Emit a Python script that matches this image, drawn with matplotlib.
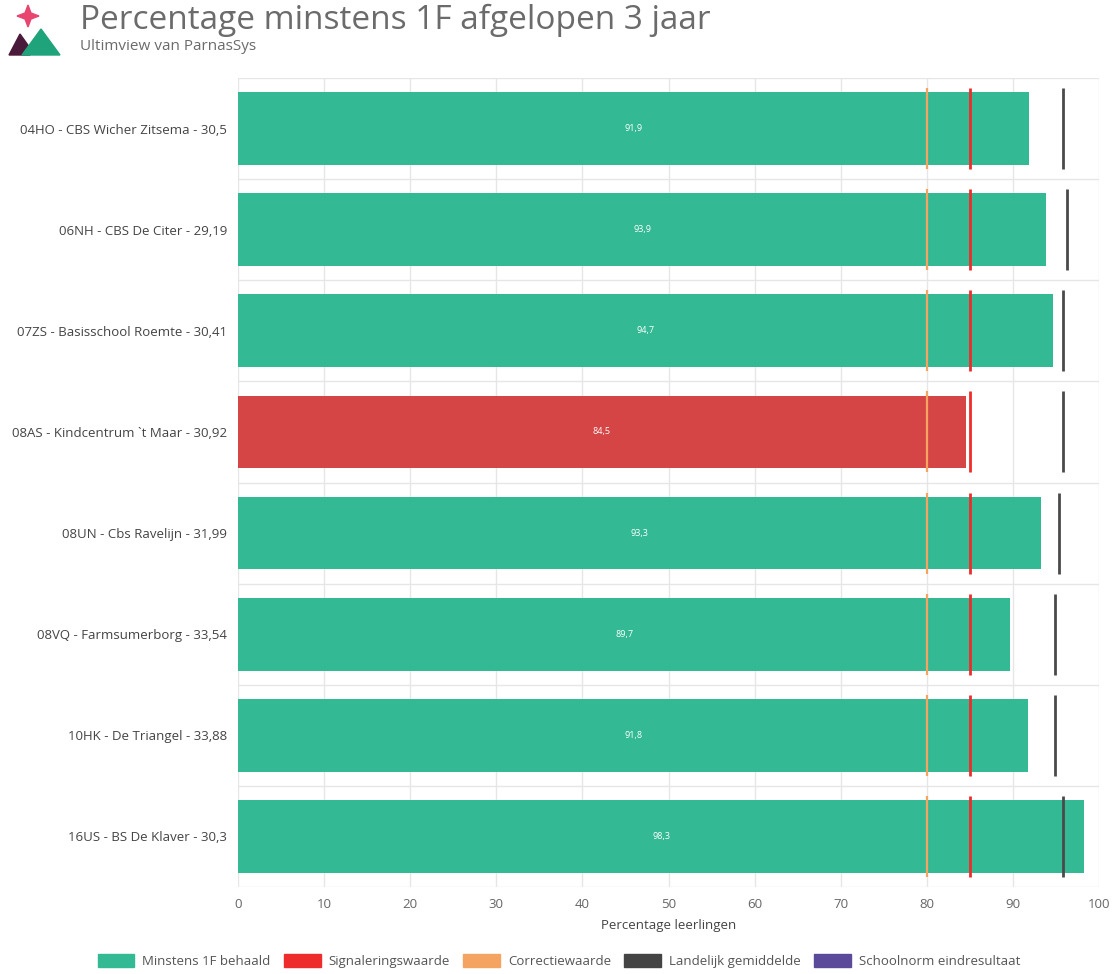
import matplotlib
matplotlib.use("Agg")
import matplotlib.pyplot as plt
from matplotlib.patches import Polygon, Rectangle

categories = ["04HO - CBS Wicher Zitsema - 30,5", "06NH - CBS De Citer - 29,19",
              "07ZS - Basisschool Roemte - 30,41", "08AS - Kindcentrum `t Maar - 30,92",
              "08UN - Cbs Ravelijn - 31,99", "08VQ - Farmsumerborg - 33,54",
              "10HK - De Triangel - 33,88", "16US - BS De Klaver - 30,3"]
values = [91.9, 93.9, 94.7, 84.5, 93.3, 89.7, 91.8, 98.3]
signalering = [85, 85, 85, 85, 85, 85, 85, 85]
correctie = [80, 80, 80, 80, 80, 80, 80, 80]
landelijk = [95.8, 96.3, 95.8, 95.8, 95.4, 94.9, 94.9, 95.8]
xticks = [0, 10, 20, 30, 40, 50, 60, 70, 80, 90, 100]
legend_labels = ["Minstens 1F behaald", "Signaleringswaarde", "Correctiewaarde",
                 "Landelijk gemiddelde", "Schoolnorm eindresultaat"]

GREEN = "#33b994"
RED_BAR = "#d64545"
RED = "#ee2c2c"
ORANGE = "#f4a460"
DARK = "#444444"
PURPLE = "#5b4a9a"

plt.rcParams['font.family'] = ['Open Sans', 'DejaVu Sans']

fig = plt.figure(figsize=(11.18, 9.74), dpi=100)
ax = fig.add_axes([238/1118, 1-887/974, (1099-238)/1118, (887-78)/974])

n = len(categories)
ys = list(range(n))
colors = [GREEN if v >= s else RED_BAR for v, s in zip(values, signalering)]
ax.barh(ys, values, height=0.72, color=colors, zorder=2)
for y, v in zip(ys, values):
    ax.text(v/2, y, f"{v:.1f}".replace(".", ","), ha="center", va="center",
            color="white", fontsize=6.5, zorder=5)
half = 0.4
for y, c, s, l in zip(ys, correctie, signalering, landelijk):
    ax.plot([c, c], [y-half, y+half], color=ORANGE, lw=1.6, zorder=3, solid_capstyle='butt')
    ax.plot([s, s], [y-half, y+half], color=RED, lw=2, zorder=3, solid_capstyle='butt')
    ax.plot([l, l], [y-half, y+half], color="#4a4a4a", lw=2, zorder=3, solid_capstyle='butt')

ax.set_xlim(0, 100)
ax.set_ylim(n-0.5, -0.5)
ax.set_yticks(ys)
ax.set_yticklabels(categories, fontsize=9.5, color="#444444")
ax.set_xticks(xticks)
ax.set_xticklabels([str(t) for t in xticks], fontsize=9.5, color="#666666")
ax.tick_params(length=0, pad=8)
for y in range(n+1):
    ax.axhline(y-0.5, color="#e6e6e6", lw=1, zorder=1)
for t in xticks:
    ax.axvline(t, color="#e6e6e6", lw=1, zorder=1)
for sp in ax.spines.values():
    sp.set_visible(False)
ax.set_xlabel("Percentage leerlingen", fontsize=9.5, color="#444444", labelpad=6)

# Title and subtitle
fig.text(80/1118, 1-20/974, "Percentage minstens 1F afgelopen 3 jaar", fontsize=24,
         color="#6b6b6b", va="center", ha="left")
fig.text(80/1118, 1-47/974, "Ultimview van ParnasSys", fontsize=11,
         color="#6b6b6b", va="center", ha="left")

# Logo
lax = fig.add_axes([6/1118, 1-58/974, 58/1118, 55/974])
lax.set_xlim(0, 58); lax.set_ylim(0, 55); lax.axis("off")
lax.add_patch(Polygon([[3, 3], [14, 24], [24, 10], [24, 3]], closed=True, color="#4a1a3a"))
lax.add_patch(Polygon([[16, 3], [35, 29], [54, 3]], closed=True, color="#1fa37a"))
lax.add_patch(Polygon([[22, 53], [25, 45], [33, 42], [25, 39], [22, 31], [19, 39], [11, 42], [19, 45]],
                      closed=True, color="#e8466e"))

# Legend
handles = [Rectangle((0, 0), 1, 1, color=c) for c in [GREEN, RED, ORANGE, DARK, PURPLE]]
fig.legend(handles, legend_labels, loc="center", bbox_to_anchor=(0.5, 1-961/974), ncol=5,
           frameon=False, fontsize=9.5, handlelength=2.8, handleheight=1.2,
           columnspacing=1.0, handletextpad=0.6, labelcolor="#555555")

fig.savefig("out.png", dpi=100)
